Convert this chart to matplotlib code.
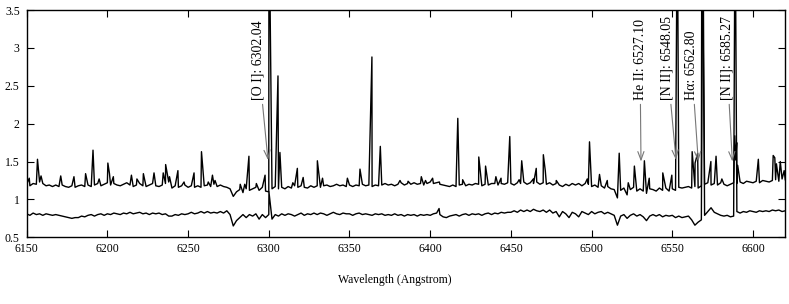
import numpy as np
import matplotlib
matplotlib.use('Agg')
import matplotlib.pyplot as plt
from matplotlib.ticker import FuncFormatter

plt.rcParams['font.family'] = ['Liberation Serif', 'DejaVu Serif']
plt.rcParams['font.size'] = 8.5

# continuum sampled every 2 Angstrom, 6150 .. 6620
wave = np.arange(6150, 6622, 2)

upper_cont = [
    1.20, 1.18, 1.21, 1.20, 1.23, 1.21, 1.18, 1.19, 1.17, 1.19,
    1.17, 1.19, 1.17, 1.16, 1.18, 1.16, 1.18, 1.19, 1.17, 1.19,
    1.17, 1.19, 1.21, 1.18, 1.20, 1.22, 1.19, 1.21, 1.19, 1.18,
    1.20, 1.22, 1.19, 1.17, 1.19, 1.21, 1.18, 1.17, 1.19, 1.21,
    1.18, 1.17, 1.19, 1.21, 1.23, 1.15, 1.18, 1.16, 1.18, 1.19,
    1.16, 1.18, 1.16, 1.18, 1.16, 1.18, 1.19, 1.17, 1.20, 1.17,
    1.19, 1.17, 1.16, 1.14, 1.04, 1.10, 1.13, 1.09, 1.14, 1.12,
    1.14, 1.16, 1.12, 1.16, 1.11, 1.10, 1.14, 1.17, 1.14, 1.16,
    1.14, 1.17, 1.15, 1.18, 1.16, 1.18, 1.16, 1.15, 1.18, 1.16,
    1.18, 1.16, 1.18, 1.19, 1.17, 1.18, 1.20, 1.18, 1.19, 1.17,
    1.19, 1.17, 1.19, 1.18, 1.20, 1.18, 1.19, 1.17, 1.19, 1.18,
    1.19, 1.21, 1.19, 1.20, 1.18, 1.20, 1.22, 1.19, 1.21, 1.20,
    1.22, 1.20, 1.21, 1.19, 1.21, 1.23, 1.21, 1.22, 1.20, 1.19,
    1.18, 1.17, 1.19, 1.17, 1.19, 1.20, 1.18, 1.20, 1.19, 1.21,
    1.20, 1.18, 1.20, 1.19, 1.21, 1.21, 1.19, 1.21, 1.20, 1.22,
    1.21, 1.19, 1.22, 1.21, 1.23, 1.20, 1.22, 1.21, 1.23, 1.20,
    1.22, 1.20, 1.22, 1.19, 1.21, 1.19, 1.17, 1.20, 1.18, 1.21,
    1.19, 1.21, 1.18, 1.21, 1.20, 1.17, 1.19, 1.16, 1.18, 1.15,
    1.17, 1.14, 1.13, 1.02, 1.12, 1.15, 1.06, 1.13, 1.16, 1.11,
    1.14, 1.11, 1.08, 1.14, 1.13, 1.11, 1.15, 1.12, 1.15, 1.11,
    1.14, 1.12, 1.16, 1.15, 1.16, 1.17, 1.15, 1.17, 1.15, 1.18,
    1.20, 1.22, 1.19, 1.21, 1.19, 1.22, 1.20, 1.18, 1.20, 1.22,
    1.21, 1.23, 1.21, 1.24, 1.23, 1.22, 1.24, 1.22, 1.25, 1.24,
    1.23, 1.25, 1.26, 1.24, 1.27, 1.26,
]

lower_cont = [
    0.81, 0.79, 0.82, 0.80, 0.81, 0.79, 0.81, 0.80, 0.79, 0.80,
    0.79, 0.78, 0.77, 0.76, 0.75, 0.76, 0.76, 0.78, 0.77, 0.79,
    0.80, 0.78, 0.80, 0.81, 0.79, 0.81, 0.80, 0.82, 0.81, 0.80,
    0.82, 0.81, 0.83, 0.81, 0.82, 0.83, 0.81, 0.82, 0.80, 0.82,
    0.81, 0.82, 0.80, 0.81, 0.78, 0.78, 0.80, 0.79, 0.81, 0.80,
    0.81, 0.83, 0.81, 0.82, 0.84, 0.82, 0.84, 0.82, 0.83, 0.82,
    0.84, 0.82, 0.85, 0.80, 0.65, 0.72, 0.76, 0.80, 0.76, 0.80,
    0.78, 0.81, 0.74, 0.80, 0.76, 0.80, 0.74, 0.80, 0.78, 0.81,
    0.79, 0.81, 0.80, 0.78, 0.80, 0.82, 0.79, 0.81, 0.80, 0.82,
    0.80, 0.82, 0.81, 0.79, 0.81, 0.83, 0.81, 0.80, 0.82, 0.81,
    0.81, 0.79, 0.81, 0.82, 0.80, 0.81, 0.80, 0.79, 0.81, 0.80,
    0.81, 0.79, 0.80, 0.79, 0.81, 0.79, 0.80, 0.78, 0.80, 0.79,
    0.80, 0.78, 0.80, 0.79, 0.80, 0.79, 0.81, 0.82, 0.80, 0.77,
    0.76, 0.78, 0.79, 0.80, 0.78, 0.80, 0.81, 0.79, 0.81, 0.80,
    0.81, 0.79, 0.81, 0.82, 0.80, 0.82, 0.81, 0.83, 0.82, 0.83,
    0.83, 0.85, 0.83, 0.86, 0.84, 0.86, 0.84, 0.87, 0.85, 0.84,
    0.86, 0.83, 0.86, 0.82, 0.84, 0.77, 0.84, 0.81, 0.76, 0.83,
    0.81, 0.77, 0.84, 0.82, 0.80, 0.84, 0.81, 0.83, 0.84, 0.81,
    0.83, 0.81, 0.79, 0.66, 0.78, 0.80, 0.75, 0.79, 0.81, 0.78,
    0.80, 0.77, 0.72, 0.78, 0.80, 0.78, 0.80, 0.77, 0.79, 0.78,
    0.79, 0.76, 0.78, 0.76, 0.77, 0.78, 0.73, 0.66, 0.70, 0.73,
    0.79, 0.84, 0.89, 0.83, 0.81, 0.79, 0.78, 0.79, 0.77, 0.78,
    0.84, 0.82, 0.84, 0.83, 0.85, 0.84, 0.83, 0.85, 0.84, 0.85,
    0.84, 0.86, 0.85, 0.86, 0.84, 0.85,
]

# emission peaks (wavelength, flux); values above 3.5 run off the top
upper_line_w = [
    6151.6, 6156.7, 6158.9, 6171.1, 6179.3, 6186.5, 6191.1, 6194.9, 6200.3, 6201.3,
    6203.7, 6214.9, 6218.3, 6222.3, 6228.9, 6234.6, 6236.1, 6237.1, 6238.5, 6243.7,
    6247.5, 6253.7, 6258.3, 6262.5, 6265.1, 6266.7, 6282.3, 6285.1, 6287.7, 6292.3,
    6297.7, 6300.1, 6305.7, 6306.9, 6314.9, 6317.7, 6321.3, 6330.1, 6333.3, 6348.7,
    6356.5, 6363.9, 6369.1, 6381.3, 6386.3, 6394.5, 6397.1, 6401.5, 6405.7, 6417.1,
    6420.1, 6430.1, 6434.3, 6440.7, 6443.9, 6449.3, 6455.1, 6456.7, 6463.9, 6465.7,
    6470.1, 6471.3, 6478.1, 6497.3, 6498.7, 6504.9, 6509.7, 6517.1, 6522.7, 6526.5,
    6532.7, 6535.7, 6544.1, 6549.7, 6553.1, 6562.3, 6564.1, 6565.7, 6568.3, 6573.9,
    6577.1, 6580.7, 6588.7, 6589.3, 6589.9, 6590.5, 6603.3, 6612.5, 6613.5, 6614.5,
    6616.9, 6619.3,
]
upper_line_f = [
    1.28, 1.53, 1.31, 1.31, 1.30, 1.34, 1.65, 1.27, 1.48, 1.34,
    1.30, 1.32, 1.27, 1.34, 1.35, 1.35, 1.46, 1.34, 1.30, 1.38,
    1.23, 1.35, 1.63, 1.23, 1.32, 1.25, 1.20, 1.20, 1.57, 1.21,
    1.32, 5.00, 2.63, 1.62, 1.22, 1.41, 1.29, 1.51, 1.28, 1.28,
    1.40, 2.88, 1.70, 1.25, 1.24, 1.30, 1.25, 1.28, 1.23, 2.07,
    1.26, 1.56, 1.44, 1.30, 1.28, 1.83, 1.26, 1.51, 1.27, 1.41,
    1.59, 1.38, 1.25, 1.27, 1.76, 1.33, 1.25, 1.61, 1.22, 1.44,
    1.51, 1.28, 1.35, 1.32, 5.00, 1.63, 1.48, 1.61, 5.00, 1.50,
    1.57, 1.27, 1.84, 1.52, 1.75, 1.45, 1.53, 1.58, 1.55, 1.47,
    1.50, 1.38,
]

lower_line_w = [6300.1, 6405.5, 6568.9, 6588.9]
lower_line_f = [1.10, 0.88, 5.00, 5.00]

labels = ['[O I]: 6302.04', 'He II: 6527.10', '[N II]: 6548.05',
          'H\u03b1: 6562.80', '[N II]: 6585.27']
label_x = [6293.5, 6530.0, 6546.5, 6562.0, 6583.7]
arrow_x = [6299.5, 6530.6, 6552.3, 6566.1, 6587.2]
arrow_y = [1.52, 1.50, 1.52, 1.50, 1.50]


def spectrum(cont, line_w, line_f):
    x = np.concatenate([wave, line_w])
    y = np.concatenate([cont, line_f])
    order = np.argsort(x, kind='stable')
    return x[order], y[order]


fig = plt.figure(figsize=(7.89, 3.04), dpi=100)
ax = fig.add_axes([0.0338, 0.2194, 0.9615, 0.7477])

xu, yu = spectrum(upper_cont, upper_line_w, upper_line_f)
xl, yl = spectrum(lower_cont, lower_line_w, lower_line_f)
ax.plot(xu, yu, color='black', lw=1.0)
ax.plot(xl, yl, color='black', lw=1.0)

for text, tx, px, py in zip(labels, label_x, arrow_x, arrow_y):
    ax.annotate(text, xy=(px, py), xytext=(tx, 2.31),
                rotation=90, ha='center', va='bottom', fontsize=10,
                arrowprops=dict(arrowstyle='->,head_length=0.6,head_width=0.22',
                                color='#777777', lw=0.8,
                                shrinkA=1, shrinkB=0))

ax.set_xlim(6150, 6620)
ax.set_ylim(0.5, 3.5)
ax.set_xticks(np.arange(6150, 6601, 50))
ax.set_yticks(np.arange(0.5, 3.51, 0.5))
ax.yaxis.set_major_formatter(FuncFormatter(lambda v, p: '%g' % v))
ax.tick_params(direction='in', length=5, width=0.8, top=True, right=True,
               labelsize=8.5)
ax.tick_params(axis='x', pad=4)
ax.tick_params(axis='y', pad=5)
for s in ax.spines.values():
    s.set_linewidth(1.0)
ax.set_xlabel('Wavelength (Angstrom)', fontsize=8.5, labelpad=14)
# label sits at the figure centre, not the axes centre
ax.xaxis.label.set_x(0.485)

fig.savefig('out.png', dpi=100)
